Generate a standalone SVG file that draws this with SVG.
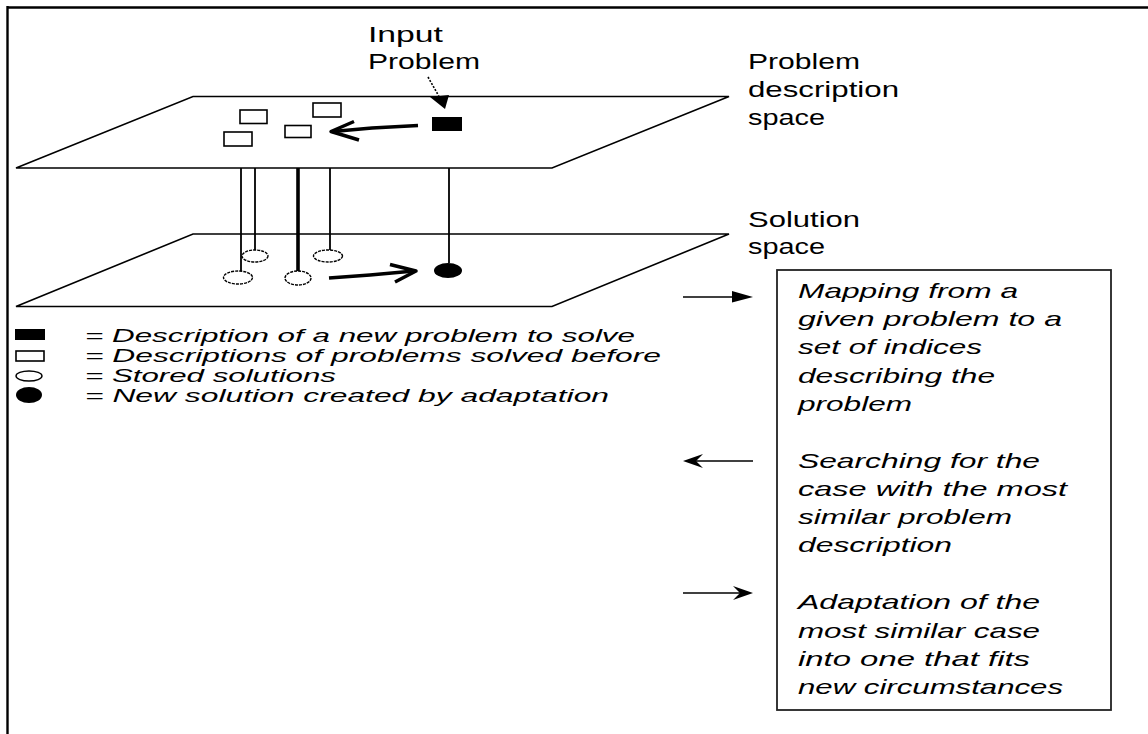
<svg xmlns="http://www.w3.org/2000/svg" width="1148" height="734" viewBox="0 0 1148 734">
<style>
.plane{fill:none;stroke:#000;stroke-width:1.6}
.pin{stroke:#000;stroke-width:1.8}
.lbl{font-family:"Liberation Sans",Arial,sans-serif;font-size:22px;fill:#000}
.it{font-family:"Liberation Sans",Arial,sans-serif;font-size:21px;font-style:italic;fill:#000}
.leg{font-family:"Liberation Sans",Arial,sans-serif;font-size:18.5px;font-style:italic;fill:#000}
.sol{fill:#fff;stroke:#000;stroke-width:1.4;stroke-dasharray:3 1}
.case{fill:#fff;stroke:#000;stroke-width:1.6}
.thick{fill:none;stroke:#000;stroke-width:3.5;stroke-linejoin:round}
.thin{fill:none;stroke:#000;stroke-width:1.6}
</style>
<rect width="1148" height="734" fill="#fff"/>
<g id="frame">
<line x1="7.5" y1="7.5" x2="1148" y2="7.5" stroke="#000" stroke-width="2.6"/>
<line x1="7.5" y1="6" x2="7.5" y2="734" stroke="#000" stroke-width="2.4"/>
</g>
<g id="problem-space">
<polygon class="plane" points="193,96.5 729,96.5 552,168 16,168"/>
<rect class="case" x="240" y="110" width="27" height="13.5"/>
<rect class="case" x="224" y="132" width="28" height="14"/>
<rect class="case" x="285" y="125.5" width="26" height="12"/>
<rect class="case" x="313" y="103" width="28" height="14"/>
<rect x="432" y="117" width="30" height="14" fill="#000"/>
<text class="lbl" x="748" y="69" textLength="112" lengthAdjust="spacingAndGlyphs">Problem</text>
<text class="lbl" x="748" y="97" textLength="151" lengthAdjust="spacingAndGlyphs">description</text>
<text class="lbl" x="748" y="125" textLength="77" lengthAdjust="spacingAndGlyphs">space</text>
</g>
<g id="input-problem">
<text class="lbl" x="368" y="42" textLength="75" lengthAdjust="spacingAndGlyphs">Input</text>
<text class="lbl" x="368" y="69" textLength="112" lengthAdjust="spacingAndGlyphs">Problem</text>
</g>
<g id="solution-space">
<polygon class="plane" points="193,234 729,234 552,306.5 16,306.5"/>
<text class="lbl" x="748" y="226.5" textLength="112" lengthAdjust="spacingAndGlyphs">Solution</text>
<text class="lbl" x="748" y="254" textLength="77" lengthAdjust="spacingAndGlyphs">space</text>
</g>
<g id="pins">
<line class="pin" x1="241" y1="168" x2="241" y2="271"/>
<line class="pin" x1="255" y1="168" x2="255" y2="250"/>
<line x1="298" y1="168" x2="298" y2="271" stroke="#000" stroke-width="3.6"/>
<line class="pin" x1="330" y1="168" x2="330" y2="250"/>
<line class="pin" x1="449" y1="168" x2="449" y2="263"/>
<ellipse class="sol" cx="238" cy="277.5" rx="14.5" ry="6.5"/>
<ellipse class="sol" cx="255" cy="256" rx="13" ry="6"/>
<ellipse class="sol" cx="298" cy="278" rx="13" ry="7"/>
<ellipse class="sol" cx="328" cy="256" rx="14.5" ry="6"/>
<ellipse cx="448" cy="270.5" rx="14" ry="7.5" fill="#000"/>
</g>
<g id="connectors">
<path d="M428,77 L441,100" fill="none" stroke="#000" stroke-width="1.6" stroke-dasharray="2 1.5"/>
<polygon points="430,97 449,95 445,109" fill="#000"/>
<path class="thick" d="M418,125.5 L372,128 L333,131.5"/>
<path class="thick" d="M354,121.5 L331,131.5 L359,140" stroke-width="3"/>
<path class="thick" d="M329,278 L370,275 L414,271"/>
<path class="thick" d="M390,264.5 L416,271 L395,282" stroke-width="3"/>
<line class="thin" x1="683" y1="297" x2="735" y2="297"/>
<polygon points="732,291 753,297 732,302.5" fill="#000"/>
<line class="thin" x1="688" y1="461" x2="753" y2="461"/>
<polygon points="683,461 703,454 696,461 703,468" fill="#000"/>
<line class="thin" x1="683" y1="593" x2="748" y2="593"/>
<polygon points="753,593 733,586 740,593 733,600" fill="#000"/>
</g>
<g id="legend">
<rect x="15" y="329" width="30" height="11" fill="#000"/>
<rect class="case" x="16" y="351" width="28" height="10"/>
<ellipse cx="29" cy="376" rx="13" ry="5" fill="#fff" stroke="#000" stroke-width="1.4"/>
<ellipse cx="29" cy="395" rx="13" ry="8" fill="#000"/>
<text class="leg" x="85" y="342" textLength="550" lengthAdjust="spacingAndGlyphs">= Description of a new problem to solve</text>
<text class="leg" x="85" y="362" textLength="576" lengthAdjust="spacingAndGlyphs">= Descriptions of problems solved before</text>
<text class="leg" x="85" y="382" textLength="251" lengthAdjust="spacingAndGlyphs">= Stored solutions</text>
<text class="leg" x="85" y="402" textLength="524" lengthAdjust="spacingAndGlyphs">= New solution created by adaptation</text>
</g>
<g id="steps-box">
<rect x="777" y="270" width="334" height="440" fill="none" stroke="#222" stroke-width="1.8"/>
<text class="it" x="798" y="298" textLength="220" lengthAdjust="spacingAndGlyphs">Mapping from a</text>
<text class="it" x="798" y="326" textLength="264" lengthAdjust="spacingAndGlyphs">given problem to a</text>
<text class="it" x="798" y="354" textLength="184" lengthAdjust="spacingAndGlyphs">set of indices</text>
<text class="it" x="798" y="383" textLength="197" lengthAdjust="spacingAndGlyphs">describing the</text>
<text class="it" x="798" y="411" textLength="114" lengthAdjust="spacingAndGlyphs">problem</text>
<text class="it" x="798" y="468" textLength="242" lengthAdjust="spacingAndGlyphs">Searching for the</text>
<text class="it" x="798" y="496" textLength="269" lengthAdjust="spacingAndGlyphs">case with the most</text>
<text class="it" x="798" y="524" textLength="214" lengthAdjust="spacingAndGlyphs">similar problem</text>
<text class="it" x="798" y="552" textLength="154" lengthAdjust="spacingAndGlyphs">description</text>
<text class="it" x="798" y="609" textLength="242" lengthAdjust="spacingAndGlyphs">Adaptation of the</text>
<text class="it" x="798" y="638" textLength="242" lengthAdjust="spacingAndGlyphs">most similar case</text>
<text class="it" x="798" y="666" textLength="232" lengthAdjust="spacingAndGlyphs">into one that fits</text>
<text class="it" x="798" y="694" textLength="265" lengthAdjust="spacingAndGlyphs">new circumstances</text>
</g>
</svg>
